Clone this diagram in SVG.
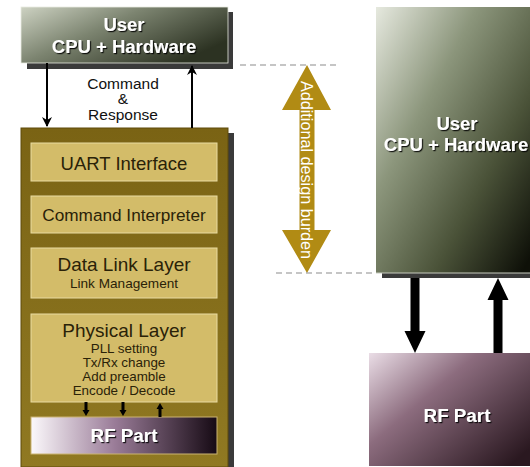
<svg xmlns="http://www.w3.org/2000/svg" width="530" height="467" viewBox="0 0 530 467">
  <defs>
    <linearGradient id="gUserSmall" x1="0" y1="0" x2="1" y2="0.6">
      <stop offset="0" stop-color="#cdd2c2"/>
      <stop offset="0.45" stop-color="#7c8470"/>
      <stop offset="1" stop-color="#2c3222"/>
    </linearGradient>
    <linearGradient id="gUserBig" x1="0" y1="0" x2="1" y2="0.9">
      <stop offset="0" stop-color="#e6e9df"/>
      <stop offset="0.35" stop-color="#8c967c"/>
      <stop offset="0.7" stop-color="#4a5238"/>
      <stop offset="1" stop-color="#0e1008"/>
    </linearGradient>
    <linearGradient id="gGold" x1="0" y1="0" x2="0" y2="1">
      <stop offset="0" stop-color="#7a6314"/>
      <stop offset="1" stop-color="#907922"/>
    </linearGradient>
    <linearGradient id="gRfSmall" x1="0" y1="0" x2="1" y2="0">
      <stop offset="0" stop-color="#fbf8fb"/>
      <stop offset="0.45" stop-color="#9a7c98"/>
      <stop offset="1" stop-color="#160a14"/>
    </linearGradient>
    <linearGradient id="gRfBig" x1="0" y1="0" x2="1" y2="0.8">
      <stop offset="0" stop-color="#eadde6"/>
      <stop offset="0.4" stop-color="#8c6c7e"/>
      <stop offset="1" stop-color="#2a1820"/>
    </linearGradient>
    <filter id="shadowText" x="-10%" y="-30%" width="130%" height="170%">
      <feDropShadow dx="1.2" dy="1.2" stdDeviation="0.7" flood-color="#000" flood-opacity="0.85"/>
    </filter>
    <marker id="headThin" viewBox="0 0 10 10" refX="9" refY="5" markerWidth="5" markerHeight="5" orient="auto">
      <path d="M0,0 L10,5 L0,10 L3,5 Z" fill="#000"/>
    </marker>
  </defs>
  <style>
    .shadow { fill: #3a3a3a; }
    .inner { fill: #d3bc69; stroke: #e9dba2; stroke-width: 1; }
    .dark { font-family: "Liberation Sans", Arial, sans-serif; fill: #2a2208; text-anchor: middle; }
    .white { font-family: "Liberation Sans", Arial, sans-serif; font-weight: bold; fill: #fff; text-anchor: middle; filter: url(#shadowText); }
    .label { font-family: "Liberation Sans", Arial, sans-serif; fill: #111; text-anchor: middle; font-size: 15.5px; }
    .dash { stroke: #8c8c8c; stroke-width: 1.2; stroke-dasharray: 6 4; fill: none; }
    .thin { stroke: #000; stroke-width: 2; fill: none; }
  </style>

  <!-- left stack: host on top of the module -->
  <g id="user-small">
    <rect class="shadow" x="27" y="12" width="206" height="57"/>
    <rect x="21" y="7" width="207" height="56" fill="url(#gUserSmall)" stroke="#e8ebe0" stroke-width="0.8"/>
    <text class="white" x="124" y="31" font-size="18.5">User</text>
    <text class="white" x="124" y="53" font-size="18.5">CPU + Hardware</text>
  </g>

  <g id="module">
    <rect class="shadow" x="227" y="133" width="7" height="334"/>
    <rect x="21" y="128" width="207" height="339" fill="url(#gGold)" stroke="#5e4a0a" stroke-width="1"/>
  </g>

  <g id="uart">
    <rect class="inner" x="31" y="143" width="186" height="38"/>
    <text class="dark" x="124" y="170" font-size="18.5">UART Interface</text>
  </g>

  <g id="cmd-interpreter">
    <rect class="inner" x="31" y="196" width="186" height="37"/>
    <text class="dark" x="124" y="221" font-size="17.2">Command Interpreter</text>
  </g>

  <g id="data-link">
    <rect class="inner" x="31" y="248" width="186" height="50"/>
    <text class="dark" x="124" y="271" font-size="19">Data Link Layer</text>
    <text class="dark" x="124" y="288" font-size="13.6">Link Management</text>
  </g>

  <g id="physical">
    <rect class="inner" x="31" y="314" width="186" height="88"/>
    <text class="dark" x="124" y="337" font-size="19">Physical Layer</text>
    <text class="dark" x="124" y="352.5" font-size="13.4">PLL setting</text>
    <text class="dark" x="124" y="366.5" font-size="13.4">Tx/Rx change</text>
    <text class="dark" x="124" y="380.5" font-size="13.4">Add preamble</text>
    <text class="dark" x="124" y="394.5" font-size="13.4">Encode / Decode</text>
  </g>

  <g id="rf-small">
    <rect x="31" y="417" width="186" height="37" fill="url(#gRfSmall)" stroke="#cbb473" stroke-width="1"/>
    <text class="white" x="124" y="442" font-size="18.8">RF Part</text>
  </g>

  <!-- right stack: host and radio, no module in between -->
  <g id="user-big">
    <rect class="shadow" x="382" y="273" width="148" height="5"/>
    <rect x="376" y="7" width="160" height="266" fill="url(#gUserBig)"/>
    <line x1="376" y1="273" x2="530" y2="273" stroke="#c8ccc0" stroke-width="1"/>
    <text class="white" x="457" y="130" font-size="18.5">User</text>
    <text class="white" x="456" y="151" font-size="18.5">CPU + Hardware</text>
  </g>

  <g id="rf-big">
    <rect x="369" y="353" width="167" height="113" fill="url(#gRfBig)"/>
    <text class="white" x="457" y="422" font-size="18.8">RF Part</text>
  </g>

  <g id="burden">
    <path d="M307,65 L331,110 L314.5,110 L314.5,230 L331,230 L307,273 L282,230 L299.5,230 L299.5,110 L282,110 Z" fill="#b18b14"/>
    <text transform="translate(307,170) rotate(90)" x="0" y="0" dominant-baseline="central" text-anchor="middle" font-family="Liberation Sans, Arial, sans-serif" font-size="16.2" fill="#fff">Additional design burden</text>
  </g>

  <g id="connectors">
    <!-- command / response between host and module -->
    <line class="thin" x1="47" y1="63" x2="47" y2="126" marker-end="url(#headThin)"/>
    <line class="thin" x1="192" y1="128" x2="192" y2="66" marker-end="url(#headThin)"/>
    <text class="label" x="123" y="88.5">Command</text>
    <text class="label" x="123" y="104">&amp;</text>
    <text class="label" x="123" y="120">Response</text>

    <!-- physical layer to RF part -->
    <path d="M84.5,402 h3 v8 h2 l-3.5,6 l-3.5,-6 h2 Z" fill="#000"/>
    <path d="M121.5,402 h3 v8 h2 l-3.5,6 l-3.5,-6 h2 Z" fill="#000"/>
    <path d="M158.5,417 h3 v-8 h2 l-3.5,-6 l-3.5,6 h2 Z" fill="#000"/>

    <!-- host to radio, right stack -->
    <path d="M410.5,278 h9 v53 h6 l-10.5,22 l-10.5,-22 h6 Z" fill="#000"/>
    <path d="M493.5,353 h9 v-53 h6 l-10.5,-22 l-10.5,22 h6 Z" fill="#000"/>

    <!-- extent of the extra layers -->
    <line class="dash" x1="240" y1="65" x2="336" y2="65"/>
    <line class="dash" x1="276" y1="273" x2="372" y2="273"/>
  </g>
</svg>
